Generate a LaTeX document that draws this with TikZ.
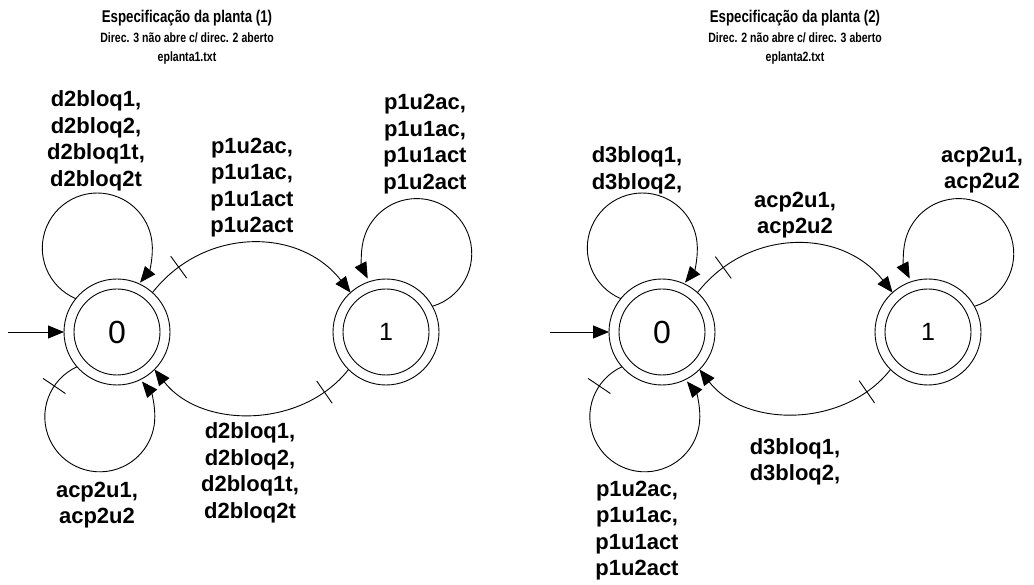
\documentclass[tikz,border=0pt]{standalone}
\usepackage{fontspec}
\setmainfont{Liberation Sans}
\newfontfamily\narrowfont[FakeStretch=0.78]{Liberation Sans}
\usetikzlibrary{arrows.meta,decorations.markings}
\begin{document}
\begin{tikzpicture}[x=1pt,y=1pt, line width=0.9pt,
  state/.style={circle, draw, minimum size=106pt, inner sep=0pt, outer sep=0pt,
    path picture={\draw (path picture bounding box.center) circle[radius=43pt];}},
  zero/.style={font=\fontsize{32}{33}\selectfont},
  one/.style={font=\fontsize{25}{26}\selectfont},
  tr/.style={-{Triangle[length=16pt,width=13pt]}},
  lbl/.style={font=\fontsize{22}{26.5}\selectfont\bfseries, align=center, inner sep=0pt},
  ttl/.style={font=\narrowfont\fontsize{17}{19}\selectfont\bfseries, inner sep=0pt},
  sub/.style={font=\narrowfont\fontsize{13.5}{15}\selectfont\bfseries, inner sep=0pt},
  ctick/.style={postaction={decorate, decoration={markings,
    mark=at position #1 with {\draw[-] (0,-13.5pt) -- (0,13.5pt);}}}},
]
\useasboundingbox (0,0) rectangle (1034,584);

% titles
\node[ttl, anchor=base] (t1) at (187,561) {Especificação da planta (1)};
\node[sub, anchor=base] (s1) at (187,541) {Direc. 3 não abre c/ direc. 2 aberto};
\node[sub, anchor=base] (f1) at (187,522) {eplanta1.txt};
\node[ttl, anchor=base] (t2) at (795,561) {Especificação da planta (2)};
\node[sub, anchor=base] (s2) at (795,541) {Direc. 2 não abre c/ direc. 3 aberto};
\node[sub, anchor=base] (f2) at (795,522) {eplanta2.txt};

% states
\node[state, zero] (L0) at (117,252) {0};
\node[state, one]  (L1) at (386,252) {1};
\node[state, zero] (R0) at (662,252) {0};
\node[state, one]  (R1) at (928,252) {1};

% initial arrows
\coordinate (Lin) at (8,252);
\coordinate (Rin) at (550,252);
\draw[tr] (Lin) -- (L0.west);
\draw[tr] (Rin) -- (R0.west);

% left diagram
\draw[tr] (L0.141) arc[start angle=247, end angle=-39, radius=55pt];
\draw[tr, ctick=0.11] (L0.221) arc[start angle=114.5, end angle=400, radius=55pt];
\draw[tr] (L1.29) arc[start angle=-73.5, end angle=207, radius=55pt];
\draw[tr, ctick=0.16] (L0.48) to[out=52, in=128, looseness=1.08] (L1.132);
\draw[tr, ctick=0.15] (L1.225) to[out=-128, in=-52, looseness=1.0] (L0.315);

% right diagram
\draw[tr] (R0.141) arc[start angle=247, end angle=-39, radius=55pt];
\draw[tr, ctick=0.11] (R0.221) arc[start angle=114.5, end angle=400, radius=55pt];
\draw[tr] (R1.29) arc[start angle=-73.5, end angle=207, radius=55pt];
\draw[tr, ctick=0.16] (R0.48) to[out=52, in=128, looseness=1.08] (R1.132);
\draw[tr, ctick=0.15] (R1.225) to[out=-128, in=-52, looseness=1.0] (R0.315);

% left labels
\node[lbl] (la) at (96,443) {d2bloq1,\\d2bloq2,\\d2bloq1t,\\d2bloq2t};
\node[lbl] (lb) at (252,396.5) {p1u2ac,\\p1u1ac,\\p1u1act\\p1u2act};
\node[lbl] (lc) at (425,440) {p1u2ac,\\p1u1ac,\\p1u1act\\p1u2act};
\node[lbl] (ld) at (250,111) {d2bloq1,\\d2bloq2,\\d2bloq1t,\\d2bloq2t};
\node[lbl] (le) at (97,79) {acp2u1,\\acp2u2};

% right labels
\node[lbl] (ra) at (637,413.5) {d3bloq1,\\d3bloq2,};
\node[lbl] (rb) at (795,369) {acp2u1,\\acp2u2};
\node[lbl] (rc) at (982,414) {acp2u1,\\acp2u2};
\node[lbl] (rd) at (795,122) {d3bloq1,\\d3bloq2,};
\node[lbl] (re) at (637,53.5) {p1u2ac,\\p1u1ac,\\p1u1act\\p1u2act};
\end{tikzpicture}
\end{document}
